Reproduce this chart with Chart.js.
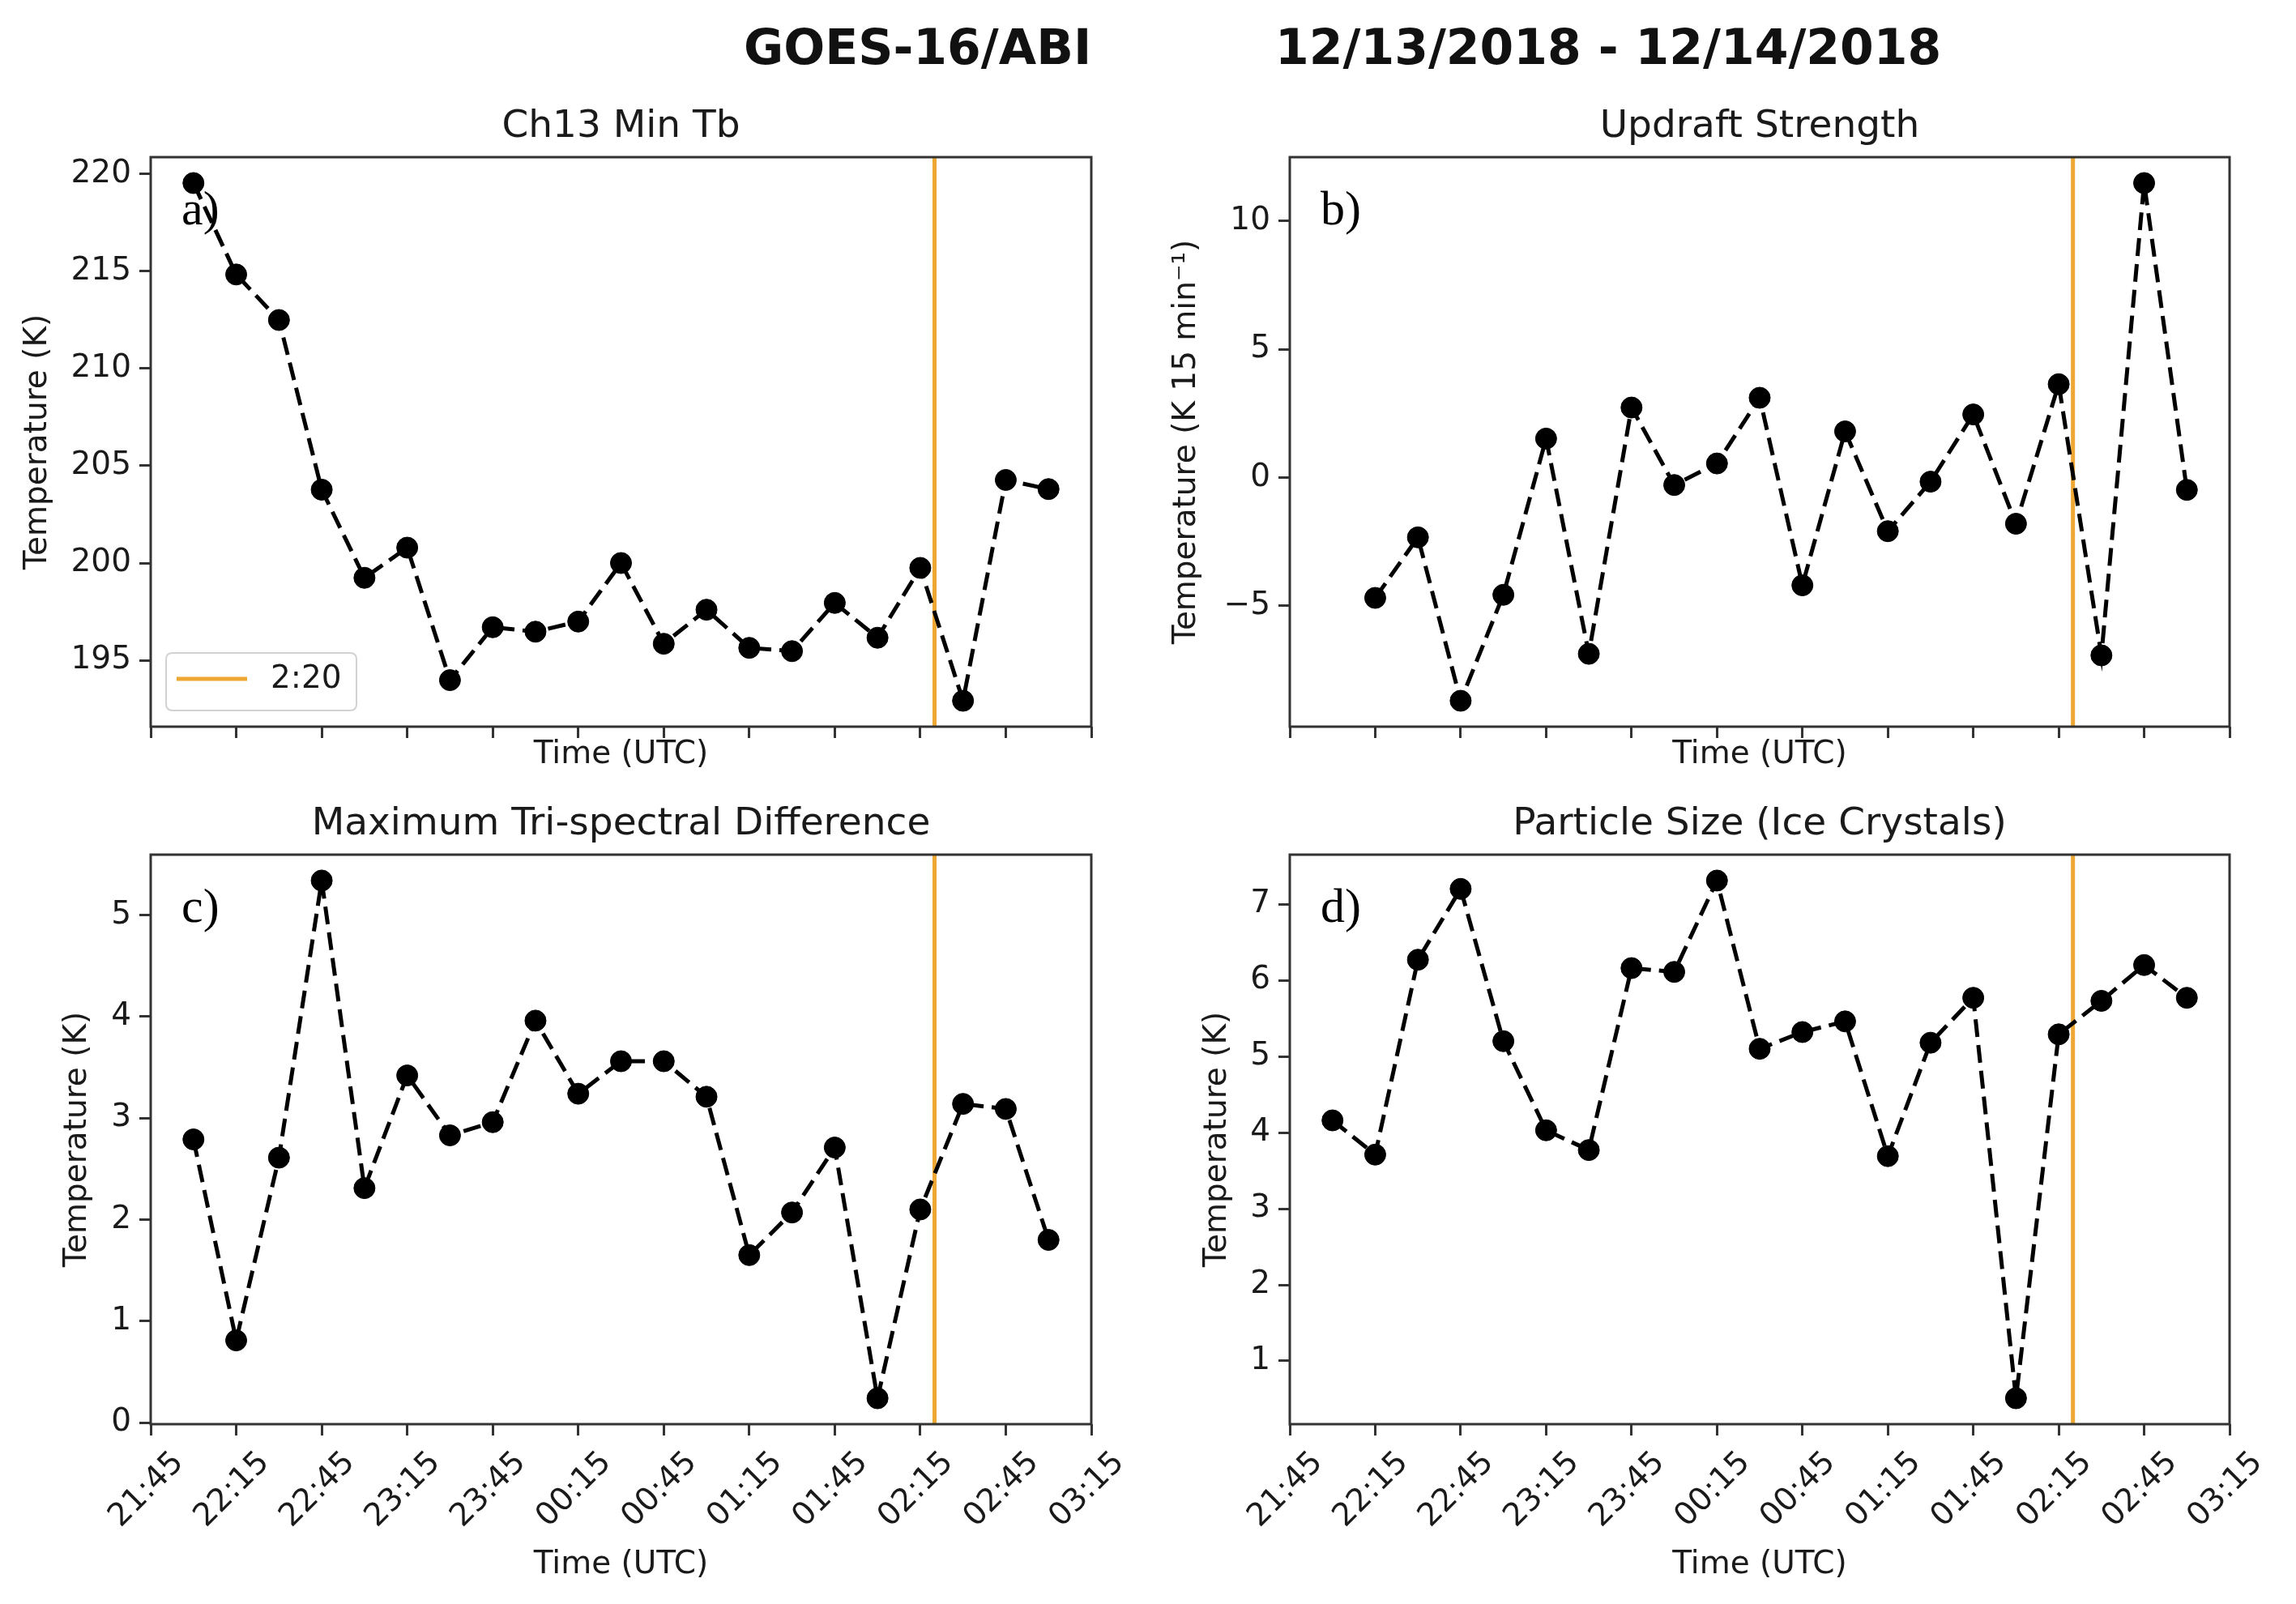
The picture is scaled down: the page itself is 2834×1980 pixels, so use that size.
<!DOCTYPE html>
<html><head><meta charset="utf-8">
<script src="https://cdn.jsdelivr.net/npm/chart.js@4.4.0/dist/chart.umd.min.js"></script>
<style>
html,body{margin:0;padding:0;background:#fff;width:2834px;height:1980px;overflow:hidden;}
canvas{position:absolute;}
.ttl{position:absolute;font-family:'DejaVu Sans';font-weight:bold;font-size:60px;line-height:60px;color:#111;white-space:pre;}
</style></head><body>
<div class="ttl" style="left:918px;top:28px">GOES-16/ABI</div>
<div class="ttl" style="left:1574px;top:28px">12/13/2018 - 12/14/2018</div>
<canvas id="ca" width="1417" height="861" style="left:0px;top:110px;width:1417px;height:861px"></canvas>
<canvas id="cb" width="1417" height="861" style="left:1417px;top:110px;width:1417px;height:861px"></canvas>
<canvas id="cc" width="1417" height="1009" style="left:0px;top:971px;width:1417px;height:1009px"></canvas>
<canvas id="cd" width="1417" height="1009" style="left:1417px;top:971px;width:1417px;height:1009px"></canvas>
<script>
// ---------------- data ----------------
const times = ["22:00","22:15","22:30","22:45","23:00","23:15","23:30","23:45","00:00","00:15","00:30",
               "00:45","01:00","01:15","01:30","01:45","02:00","02:15","02:30","02:45","03:00"];
const timesUpdraft = ["22:15","22:30","22:45","23:00","23:15","23:30","23:45","00:00","00:15","00:30",
               "00:45","01:00","01:15","01:30","01:45","02:00","02:15","02:30","02:45","03:00"];
const ch13MinTb = [219.53,214.83,212.49,203.77,199.24,200.79,193.98,196.70,196.47,196.99,200.00,
                   195.85,197.60,195.64,195.47,197.95,196.16,199.75,192.92,204.27,203.80];
const updraftStrength = [-4.69,-2.33,-8.70,-4.57,1.52,-6.87,2.73,-0.29,0.55,3.11,
                   -4.20,1.80,-2.09,-0.16,2.46,-1.80,3.64,-6.93,11.48,-0.48];
const triSpectralDiff = [2.79,0.81,2.61,5.34,2.31,3.42,2.83,2.96,3.96,3.24,3.56,
                   3.56,3.21,1.65,2.07,2.71,0.24,2.10,3.14,3.09,1.80];
const particleSize = [4.16,3.71,6.27,7.20,5.20,4.03,3.77,6.16,6.11,7.31,5.10,
                   5.32,5.46,3.69,5.18,5.77,0.51,5.29,5.73,6.20,5.77];
const xTickLabels = ["21:45","22:15","22:45","23:15","23:45","00:15","00:45","01:15","01:45","02:15","02:45","03:15"];
const yTicksA = [195,200,205,210,215,220];
const yTicksB = [-5,0,5,10];
const yTicksC = [0,1,2,3,4,5];
const yTicksD = [1,2,3,4,5,6,7];
const eventTime = "2:20";
const eventClock = "02:20";

// ---------------- styling ----------------
const FONT = "'DejaVu Sans'";
const TXT = '#1a1a1a';
const SPINE = '#333333';
const ORANGE = '#eea733';

function toMin(s){
  const [h,m] = s.split(':').map(Number);
  let t = h*60+m; if (h < 12) t += 1440;
  return t - (21*60+45);
}

const spinePlugin = {
  id:'spines',
  afterDraw(chart){
    const {ctx, chartArea:a} = chart;
    ctx.save(); ctx.strokeStyle = SPINE; ctx.lineWidth = 3;
    ctx.strokeRect(a.left, a.top, a.right-a.left, a.bottom-a.top);
    ctx.restore();
  }
};
function letterPlugin(letter){
  return { id:'letter', beforeDatasetsDraw(chart){
    const {ctx, chartArea:a} = chart;
    ctx.save(); ctx.fillStyle = '#000'; ctx.font = "60px 'Liberation Serif'";
    ctx.textAlign='left'; ctx.textBaseline='alphabetic';
    ctx.fillText(letter, a.left+38, a.top+83);
    ctx.restore();
  }};
}
const legendPlugin = { id:'insideLegend', afterDraw(chart){
  const {ctx, chartArea:a} = chart;
  const ds = chart.data.datasets[1];
  const x = a.left+19, y = a.bottom-91, w = 235, h = 71, r = 8;
  ctx.save();
  ctx.beginPath();
  ctx.moveTo(x+r,y); ctx.lineTo(x+w-r,y); ctx.quadraticCurveTo(x+w,y,x+w,y+r);
  ctx.lineTo(x+w,y+h-r); ctx.quadraticCurveTo(x+w,y+h,x+w-r,y+h);
  ctx.lineTo(x+r,y+h); ctx.quadraticCurveTo(x,y+h,x,y+h-r);
  ctx.lineTo(x,y+r); ctx.quadraticCurveTo(x,y,x+r,y); ctx.closePath();
  ctx.fillStyle='rgba(255,255,255,0.8)'; ctx.fill();
  ctx.strokeStyle='#d2d2d2'; ctx.lineWidth=2; ctx.stroke();
  ctx.strokeStyle = ds.borderColor; ctx.lineWidth = ds.borderWidth;
  ctx.beginPath(); ctx.moveTo(a.left+32, a.bottom-59); ctx.lineTo(a.left+119, a.bottom-59); ctx.stroke();
  ctx.fillStyle = TXT; ctx.font = "39px "+FONT; ctx.textAlign='left'; ctx.textBaseline='middle';
  ctx.fillText(ds.label, a.left+148, a.bottom-58);
  ctx.restore();
}};

function zeroPad(s){ s.paddingLeft=0; s.paddingRight=0; s.paddingTop=0; s.paddingBottom=0; }

function makePanel(id, o){
  const xs = o.times.map(toMin);
  const lo = Math.min(...o.values), hi = Math.max(...o.values);
  const m = (hi-lo)*0.05, ymin = lo-m, ymax = hi+m;
  const ev = toMin(eventClock);
  const tickFont = {family:FONT, size:39};
  const gridOpt = {display:true, drawOnChartArea:false, drawTicks:true, tickLength:14, tickWidth:3, tickColor:SPINE};
  const plugins = [spinePlugin, letterPlugin(o.letter)];
  if (o.legend) plugins.push(legendPlugin);
  new Chart(document.getElementById(id), {
    type:'line',
    data:{datasets:[
      {label:o.title, data: xs.map((x,i)=>({x, y:o.values[i]})), borderColor:'#000', borderWidth:5,
       borderDash:[22,10], pointRadius:13, pointBackgroundColor:'#000', pointBorderColor:'#000',
       pointBorderWidth:1, tension:0, fill:false, order:1},
      {label:eventTime, data:[{x:ev,y:ymin},{x:ev,y:ymax}], borderColor:ORANGE, borderWidth:5,
       pointRadius:0, fill:false, order:2}
    ]},
    options:{
      responsive:false, animation:false, devicePixelRatio:1,
      layout:{padding:{left:0,right:o.padRight,top:0,bottom:0}},
      plugins:{
        legend:{display:false}, tooltip:{enabled:false},
        title:{display:true, text:o.title, fullSize:false, color:TXT,
               font:{family:FONT, size:47, weight:'normal'}, padding:{top:19,bottom:8.6}}
      },
      scales:{
        x:{type:'linear', min:0, max:330,
           afterBuildTicks:s=>{ s.ticks = xTickLabels.map(l=>({value:toMin(l)})); },
           ticks:{display:o.showX, autoSkip:false, minRotation:45, maxRotation:45, color:TXT, font:tickFont,
                  padding:11, labelOffset:35, callback:(v,i)=>xTickLabels[i]},
           grid:gridOpt, border:{display:false},
           title:{display:true, text:'Time (UTC)', color:TXT, font:tickFont, padding:{top:0,bottom:o.xTitlePadB}},
           afterFit:s=>{ s.height = o.xH; zeroPad(s); }},
        y:{type:'linear', min:ymin, max:ymax,
           afterBuildTicks:s=>{ s.ticks = o.yTicks.map(v=>({value:v})); },
           ticks:{color:TXT, font:tickFont, padding:10,
                  callback:v=> v<0 ? '\u2212'+Math.abs(v) : String(v)},
           grid:gridOpt, border:{display:false},
           title:{display:true, text:o.ylabel, color:TXT, font:tickFont, padding:{top:o.yTitlePad,bottom:0}},
           afterFit:s=>{ s.width = o.yW; zeroPad(s); }}
      }
    },
    plugins
  });
}

makePanel('ca',{times, values:ch13MinTb, title:'Ch13 Min Tb', ylabel:'Temperature (K)', yTicks:yTicksA,
  letter:'a)', legend:true, showX:false, yW:186, padRight:70, xH:74, xTitlePadB:15.6, yTitlePad:23.6});
makePanel('cb',{times:timesUpdraft, values:updraftStrength, title:'Updraft Strength', ylabel:'Temperature (K 15 min\u207B\u00B9)', yTicks:yTicksB,
  letter:'b)', legend:false, showX:false, yW:175, padRight:82, xH:74, xTitlePadB:15.6, yTitlePad:24.6});
makePanel('cc',{times, values:triSpectralDiff, title:'Maximum Tri-spectral Difference', ylabel:'Temperature (K)', yTicks:yTicksC,
  letter:'c)', legend:false, showX:true, yW:186, padRight:70, xH:222, xTitlePadB:24.6, yTitlePad:72.6});
makePanel('cd',{times, values:particleSize, title:'Particle Size (Ice Crystals)', ylabel:'Temperature (K)', yTicks:yTicksD,
  letter:'d)', legend:false, showX:true, yW:175, padRight:82, xH:222, xTitlePadB:24.6, yTitlePad:62.6});
</script>
</body></html>
